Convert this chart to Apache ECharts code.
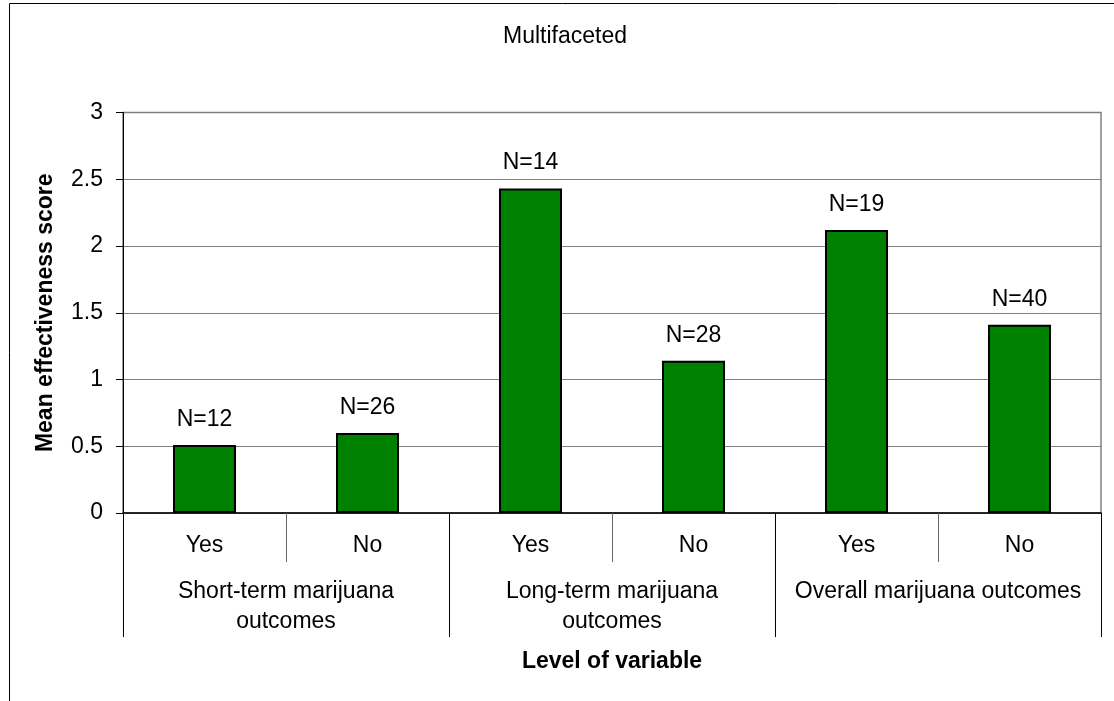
<!DOCTYPE html>
<html>
<head>
<meta charset="utf-8">
<script src="https://cdn.jsdelivr.net/npm/echarts@6/dist/echarts.min.js"></script>
<style>
html,body{margin:0;padding:0;background:#fff;}
#chart{width:1114px;height:701px;}
</style>
</head>
<body>
<div id="chart"></div>
<script>
const levels = ['Yes', 'No', 'Yes', 'No', 'Yes', 'No'];
const groups = ['Short-term marijuana\noutcomes', 'Long-term marijuana\noutcomes', 'Overall marijuana outcomes'];
const meanScores = [0.51, 0.60, 2.43, 1.14, 2.12, 1.41];
const sampleSizes = [12, 26, 14, 28, 19, 40];
const yTicks = { min: 0, max: 3, interval: 0.5 };

const FONT = "'Liberation Sans', Arial, sans-serif";
const FS = 23;
const chart = echarts.init(document.getElementById('chart'));
chart.setOption({
  backgroundColor: '#ffffff',
  animation: false,
  textStyle: { fontFamily: FONT, color: '#000' },
  title: {
    text: 'Multifaceted',
    left: 498,
    top: 20,
    textStyle: { fontFamily: FONT, fontSize: FS, fontWeight: 'normal', color: '#000' }
  },
  graphic: [{
    type: 'rect',
    shape: { x: 9.5, y: 3.5, width: 1200, height: 800 },
    style: { fill: 'none', stroke: '#000', lineWidth: 1 },
    silent: true
  }],
  grid: {
    left: 123, right: 13, top: 112.5, bottom: 188,
    show: true, borderColor: '#808080', borderWidth: 1.5, backgroundColor: 'transparent'
  },
  xAxis: [{
    type: 'category',
    data: levels,
    position: 'bottom',
    axisLine: { show: true, lineStyle: { color: '#000', width: 1.5 } },
    axisTick: { show: true, interval: 0, length: 49, lineStyle: { color: '#666', width: 1 } },
    axisLabel: { interval: 0, margin: 21, fontSize: FS, color: '#000', fontFamily: FONT },
    splitLine: { show: false }
  }, {
    type: 'category',
    data: groups,
    position: 'bottom',
    axisLine: { show: false },
    axisTick: { show: true, interval: 0, length: 124, lineStyle: { color: '#000', width: 1 } },
    axisLabel: { interval: 0, margin: 64, fontSize: FS, lineHeight: 30, color: '#000', fontFamily: FONT },
    splitLine: { show: false },
    name: 'Level of variable',
    nameLocation: 'middle',
    nameGap: 137,
    nameTextStyle: { fontSize: FS, fontWeight: 'bold', color: '#000', fontFamily: FONT }
  }],
  yAxis: {
    type: 'value',
    min: yTicks.min, max: yTicks.max, interval: yTicks.interval,
    axisLine: { show: true, lineStyle: { color: '#000', width: 1 } },
    axisTick: { show: true, length: 7, lineStyle: { color: '#000' } },
    axisLabel: { margin: 20, fontSize: FS, color: '#000', fontFamily: FONT },
    splitLine: { show: true, lineStyle: { color: '#808080', width: 1 } },
    name: 'Mean effectiveness score',
    nameLocation: 'middle',
    nameGap: 66,
    nameTextStyle: { fontSize: FS, fontWeight: 'bold', color: '#000', fontFamily: FONT }
  },
  series: [{
    type: 'bar',
    xAxisIndex: 0,
    data: meanScores,
    barWidth: 63,
    itemStyle: { color: '#008000', borderColor: '#000', borderWidth: 2 },
    label: {
      show: true,
      position: 'top',
      distance: 14,
      fontSize: FS,
      color: '#000',
      fontFamily: FONT,
      formatter: p => 'N=' + sampleSizes[p.dataIndex]
    }
  }]
});
</script>
</body>
</html>
